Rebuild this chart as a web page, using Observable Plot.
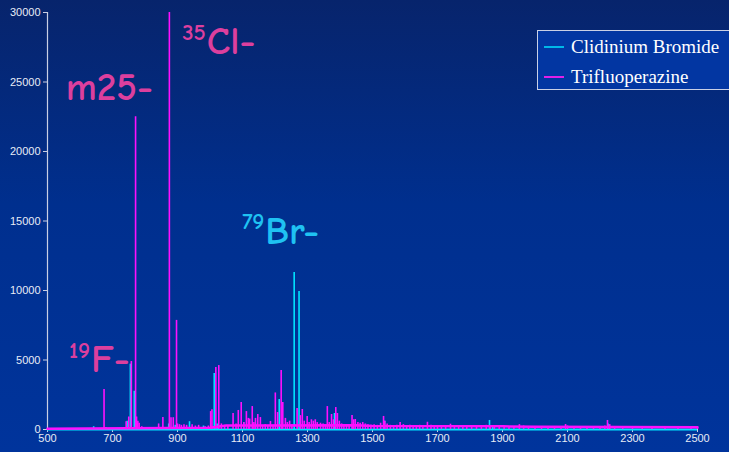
<!DOCTYPE html>
<html>
<head>
<meta charset="utf-8">
<script src="https://cdn.jsdelivr.net/npm/d3@7"></script>
<script src="https://cdn.jsdelivr.net/npm/@observablehq/plot@0.6"></script>
<style>
  html, body { margin: 0; padding: 0; background: #00339a; }
  #wrap { position: relative; width: 729px; height: 452px;
    background: linear-gradient(to bottom, #07246c 0%, #002f8e 45%, #00349c 100%); overflow: hidden; }
  #wrap svg { position: absolute; left: 0; top: 0; }
  #legend { position: absolute; left: 537px; top: 30px; width: 194px; height: 58px;
    border: 1px solid #c9d0e6; background: #0236a2; font-family: "Liberation Serif", "Times New Roman", serif;
    font-size: 19px; color: #ffffff; }
  .row { position: absolute; left: 0; height: 24px; display: flex; align-items: center; }
  .sw { width: 20px; height: 2px; margin-left: 6px; margin-right: 7px; }
</style>
</head>
<body>
<div id="wrap"><div id="legend"></div></div>
<script>
const xTicks = [500, 700, 900, 1100, 1300, 1500, 1700, 1900, 2100, 2300, 2500];
const yTicks = [0, 5000, 10000, 15000, 20000, 25000, 30000];
const seriesNames = ["Clidinium Bromide", "Trifluoperazine"];
const seriesColors = ["#00e4ff", "#ff10ff"];

// Clidinium Bromide peaks [m/z, intensity]
const clidiniumPeaks = [
  [642, 200], [690, 60], [745, 600], [755, 4700], [767, 2750], [776, 300],
  [873, 400], [893, 300], [937, 560], [980, 250], [1013, 4030], [1022, 400],
  [1104, 500], [1140, 400], [1213, 2160], [1259, 11290], [1274, 9930], [1300, 300],
  [1383, 1150], [1440, 300], [1537, 600], [1860, 650], [1870, 250], [2225, 400]
];

// Trifluoperazine peaks [m/z, intensity]
const trifluoperazinePeaks = [
  [560, 60], [600, 50], [640, 80], [674, 2880], [680, 150], [742, 550], [750, 900],
  [758, 4890], [771, 22500], [774, 900], [778, 600], [782, 450], [790, 200],
  [842, 400], [855, 860], [875, 30000], [880, 850], [887, 850], [897, 7850],
  [900, 400], [906, 350], [912, 300], [920, 350], [928, 300], [945, 350], [955, 250],
  [965, 300], [985, 200], [995, 250], [1002, 1290], [1006, 1420], [1018, 4460],
  [1027, 4600], [1035, 400], [1045, 300], [1055, 250], [1071, 1150], [1080, 400],
  [1087, 1370], [1096, 1940], [1104, 500], [1112, 1290], [1118, 800], [1122, 750],
  [1130, 1650], [1135, 500], [1140, 800], [1147, 1080], [1155, 860], [1162, 300],
  [1170, 350], [1178, 250], [1186, 580], [1194, 300], [1201, 2630], [1208, 1220],
  [1219, 4240], [1224, 1940], [1232, 800], [1238, 500], [1245, 600], [1252, 350],
  [1268, 1510], [1278, 1000], [1284, 1440], [1290, 600], [1299, 940], [1305, 500],
  [1312, 700], [1318, 600], [1324, 700], [1330, 500], [1340, 450], [1348, 400],
  [1355, 350], [1361, 1650], [1367, 500], [1374, 1080], [1380, 700], [1387, 1580],
  [1392, 1150], [1398, 600], [1405, 400], [1412, 350], [1420, 300], [1428, 350],
  [1437, 1010], [1442, 700], [1447, 720], [1455, 500], [1462, 450], [1470, 500],
  [1478, 400], [1486, 350], [1495, 300], [1505, 350], [1515, 300], [1525, 450],
  [1534, 940], [1538, 600], [1545, 400], [1555, 300], [1565, 250], [1575, 300],
  [1585, 500], [1595, 350], [1605, 250], [1615, 300], [1625, 250], [1635, 280],
  [1645, 300], [1655, 250], [1669, 520], [1680, 300], [1690, 250], [1700, 280],
  [1712, 250], [1725, 250], [1740, 380], [1752, 250], [1765, 220], [1778, 250],
  [1790, 200], [1805, 220], [1820, 250], [1835, 200], [1850, 300], [1862, 250],
  [1875, 200], [1890, 200], [1905, 250], [1920, 180], [1935, 200], [1952, 350],
  [1965, 250], [1980, 200], [2000, 180], [2020, 150], [2040, 160], [2060, 150],
  [2080, 200], [2094, 360], [2100, 250], [2120, 150], [2140, 150], [2160, 140],
  [2180, 150], [2200, 140], [2215, 250], [2223, 650], [2230, 350], [2245, 150],
  [2270, 120], [2300, 120], [2330, 110], [2360, 110], [2400, 100], [2440, 100],
  [2480, 100], [2500, 100]
];

// Trifluoperazine noise floor [m/z, intensity]
const trifluoperazineBaseline = [
  [500, 60], [1000, 120], [1050, 280], [1450, 300], [1500, 250], [1900, 230],
  [2000, 190], [2500, 170]
];

// Annotations
const labelSup = ["", "35", "79", "19"];
const labelMain = ["m25-", "Cl-", "Br-", "F-"];
const labelMz = [556, 990, 1170, 634];
const labelValue = [24600, 27900, 14210, 5036];
const labelSeries = [1, 1, 0, 1];

const labels = labelMain.map((m, i) => ({main: m, sup: labelSup[i], mz: labelMz[i], value: labelValue[i], s: labelSeries[i]}));
const pinkLabels = labels.filter(d => d.s === 1);
const blueLabels = labels.filter(d => d.s === 0);
const pink = "#dc3f9e", blue = "#1fc2f2";
const labelFont = "'Comic Sans MS', 'Comic Neue', 'DejaVu Sans', sans-serif";

const axisColor = "#c9cfe4";

const chart = Plot.plot({
  width: 729,
  height: 452,
  marginLeft: 47,
  marginRight: 32,
  marginTop: 12,
  marginBottom: 23,
  style: {background: "transparent", color: "#e8ecf6", fontFamily: "'Liberation Sans', Arial, sans-serif", fontSize: "11px", overflow: "visible"},
  x: {domain: [500, 2500]},
  y: {domain: [0, 30000]},
  marks: [
    Plot.axisY({ticks: yTicks, tickSize: 4, tickPadding: 3, tickFormat: d3.format("d"), label: null, stroke: axisColor, fontSize: 11}),
    Plot.axisX({ticks: xTicks, tickSize: 3, tickPadding: 2, tickFormat: d3.format("d"), label: null, stroke: axisColor, fontSize: 11}),
    Plot.ruleX([500], {stroke: axisColor, strokeWidth: 1.2}),
    Plot.ruleY([0], {stroke: seriesColors[0], strokeWidth: 2.2}),
    Plot.ruleX(clidiniumPeaks, {x: d => d[0], y1: 0, y2: d => d[1], stroke: seriesColors[0], strokeWidth: 1.6}),
    Plot.line(trifluoperazineBaseline, {x: d => d[0], y: d => d[1], stroke: seriesColors[1], strokeWidth: 2.5}),
    Plot.ruleX(trifluoperazinePeaks, {x: d => d[0], y1: 0, y2: d => d[1], stroke: seriesColors[1], strokeWidth: 1.6}),
    Plot.text(pinkLabels, {x: "mz", y: "value", text: "main", textAnchor: "start", fill: pink, fontSize: 39, fontWeight: "bold", fontFamily: labelFont}),
    Plot.text(pinkLabels, {x: "mz", y: "value", text: "sup", textAnchor: "end", dx: -1, dy: -9, fill: pink, fontSize: 23, fontWeight: "bold", fontFamily: labelFont}),
    Plot.text(blueLabels, {x: "mz", y: "value", text: "main", textAnchor: "start", fill: blue, fontSize: 39, fontWeight: "bold", fontFamily: labelFont}),
    Plot.text(blueLabels, {x: "mz", y: "value", text: "sup", textAnchor: "end", dx: -1, dy: -10, fill: blue, fontSize: 23, fontWeight: "bold", fontFamily: labelFont})
  ]
});

const wrap = document.getElementById("wrap");
wrap.insertBefore(chart, wrap.firstChild);

const legend = document.getElementById("legend");
seriesNames.forEach((name, i) => {
  const row = document.createElement("div");
  row.className = "row";
  row.style.top = (4 + i * 30) + "px";
  const sw = document.createElement("div");
  sw.className = "sw";
  sw.style.background = i === 0 ? "#00b8e8" : "#e020e8";
  const t = document.createElement("span");
  t.textContent = name;
  row.appendChild(sw);
  row.appendChild(t);
  legend.appendChild(row);
});
</script>
</body>
</html>
